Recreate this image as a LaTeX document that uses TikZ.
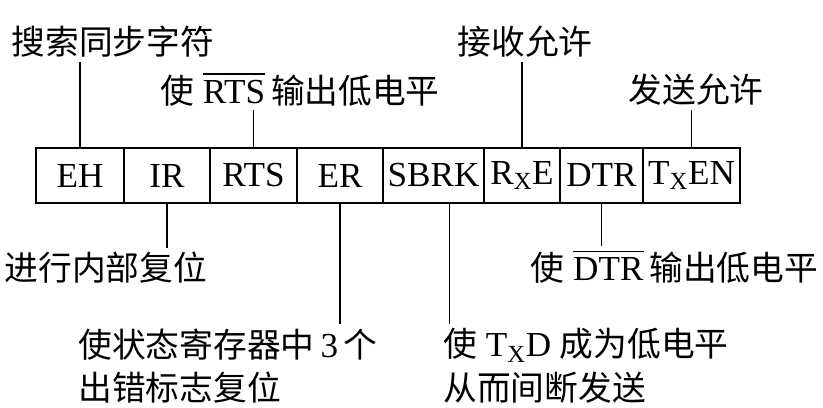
\documentclass[tikz,border=0pt]{standalone}
\usepackage{fontspec}
\setmainfont{Liberation Serif}
\newfontfamily\cjk[Scale=0.96]{Noto Sans CJK SC}
\usetikzlibrary{positioning}
\newcommand{\zh}[1]{{\cjk #1}}
\newcommand{\lowbar}[1]{\vbox{\hrule height 1.1pt\kern 3.5pt\hbox{#1}}}

\tikzset{
	cell/.style={draw,line width=1.1pt,minimum height=1.375cm,inner sep=0pt,outer sep=0pt,font=\fontsize{25}{29}\selectfont},
	note/.style={inner sep=3pt,font=\fontsize{25}{31}\selectfont},
	wire/.style={line width=1.1pt}
}

\begin{document}
\begin{tikzpicture}
\useasboundingbox (0,0) rectangle (20.575,10.175);
%register bits
\node[cell,minimum width=2.2cm] (eh) at (2.0,5.7875) {EH};
\node[cell,minimum width=2.15cm,right=0pt of eh] (ir) {IR};
\node[cell,minimum width=2.175cm,right=0pt of ir] (rts) {RTS};
\node[cell,minimum width=2.15cm,right=0pt of rts] (er) {ER};
\node[cell,minimum width=2.525cm,right=0pt of er] (sbrk) {SBRK};
\node[cell,minimum width=1.9cm,right=0pt of sbrk] (rxe) {R\textsubscript{X}E};
\node[cell,minimum width=2.075cm,right=0pt of rxe] (dtr) {DTR};
\node[cell,minimum width=2.425cm,right=0pt of dtr] (txen) {T\textsubscript{X}EN};
%notes above
\node[note] (t1) at (2.825,9.125) {\zh{搜索同步字符}};
\node[note,anchor=base] (t2) at (7.5,7.6) {\zh{使} \lowbar{RTS}\,\zh{输出低电平}};
\node[note] (t3) at (13.125,9.125) {\zh{接收允许}};
\node[note] (t4) at (17.4,7.925) {\zh{发送允许}};
%notes below
\node[note] (b1) at (2.65,3.475) {\zh{进行内部复位}};
\node[note,align=left,anchor=west] (b2) at (1.85,1.025) {\zh{使状态寄存器中}\,3\,\zh{个}\\\zh{出错标志复位}};
\node[note,anchor=base] (b3) at (16.86,3.175) {\zh{使} \lowbar{DTR}\,\zh{输出低电平}};
\node[note,align=left,anchor=west] (b4) at (10.97,1.025) {\zh{使} T\textsubscript{X}D \zh{成为低电平}\\\zh{从而间断发送}};
%leads
\draw[wire] (eh.north) -- (eh.north |- t1.south);
\draw[wire] (rts.north) -- (rts.north |- t2.south);
\draw[wire] (rxe.north) -- (rxe.north |- t3.south);
\draw[wire] (txen.north) -- (txen.north |- t4.south);
\draw[wire] (ir.south) -- (ir.south |- b1.north);
\draw[wire] (er.south) -- (er.south |- b2.north);
\draw[wire] (dtr.south) -- (dtr.south |- b3.north);
\draw[wire] ([xshift=0.4cm]sbrk.south) -- ([xshift=0.4cm]sbrk.south |- b4.north);
\end{tikzpicture}
\end{document}
